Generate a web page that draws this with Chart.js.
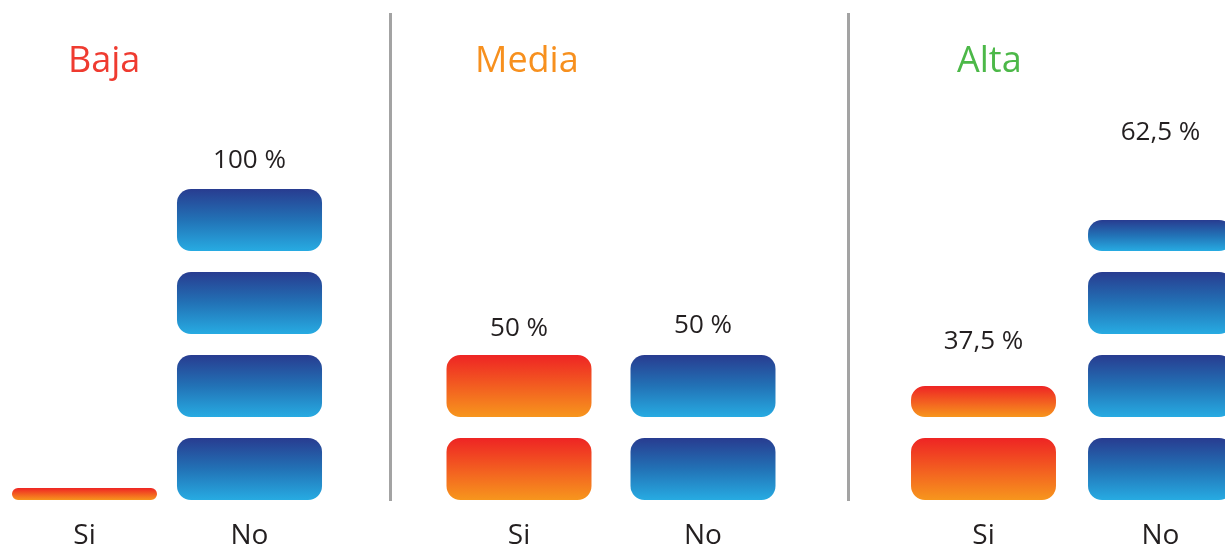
<!DOCTYPE html>
<html>
<head>
<meta charset="utf-8">
<script src="https://cdn.jsdelivr.net/npm/chart.js@4.4.1/dist/chart.umd.min.js"></script>
<style>
  html, body { margin: 0; padding: 0; background: #fff; }
  body { width: 1225px; height: 548px; position: relative; overflow: hidden; }
  .panel { position: absolute; top: 0; height: 548px; }
  .divider { position: absolute; top: 13px; width: 3px; height: 488px; background: #a3a3a3; }
</style>
</head>
<body>
<div class="panel" id="p0" style="left:2px;width:330px"><canvas id="c0"></canvas></div>
<div class="panel" id="p1" style="left:427px;width:368px"><canvas id="c1"></canvas></div>
<div class="panel" id="p2" style="left:895px;width:354px"><canvas id="c2"></canvas></div>
<div class="divider" style="left:389px"></div>
<div class="divider" style="left:847px"></div>
<script>
// Datos: porcentaje de respuestas Si / No por nivel (etiquetas)
const niveles = ["Baja", "Media", "Alta"];
const categorias = ["Si", "No"];
const porcentajeSi = [0, 50, 37.5];
const porcentajeNo = [100, 50, 62.5];
// Número de iconos (bloques) que dibuja el pictograma
const bloquesSi = [0, 2, 1.5];
const bloquesNo = [4, 2, 3.5];

const BLOQUE = 62 / 83; // parte coloreada de cada unidad (resto = hueco)
const MINIMO = 0.145; // tira fina cuando el valor es 0

const coloresTitulo = ["#ef3b30", "#f7901e", "#4cb848"];
const anchoBarra = [0.879, 0.788, 0.819];
const tituloX = [66, 48, 62];
const desplazEtiqueta = [[0, 28], [26, 29], [44, 87]];

// Convierte un número de bloques en el bloque flotante de cada nivel
function bloque(cantidad, nivel) {
  if (cantidad === 0) return nivel === 0 ? [0, MINIMO] : null;
  const lleno = Math.max(0, Math.min(1, cantidad - nivel));
  if (lleno <= 0) return null;
  return [nivel, nivel + lleno * BLOQUE];
}

function degradado(ctx) {
  const chart = ctx.chart;
  const y = chart.scales.y;
  const raw = ctx.raw;
  const esSi = ctx.dataIndex === 0;
  if (!y || !chart.chartArea || !raw) return esSi ? "#f36a21" : "#2272b6";
  const top = y.getPixelForValue(raw[1]);
  const bot = y.getPixelForValue(raw[0]);
  const g = chart.ctx.createLinearGradient(0, top, 0, bot);
  if (esSi) {
    g.addColorStop(0, "#ee2424");
    g.addColorStop(1, "#f7961d");
  } else {
    g.addColorStop(0, "#283c90");
    g.addColorStop(0.5, "#2272b6");
    g.addColorStop(1, "#27abe2");
  }
  return g;
}

// Título y etiquetas de porcentaje
const textosPlugin = {
  id: "textos",
  afterDatasetsDraw(chart, args, opts) {
    const ctx = chart.ctx;
    ctx.save();
    ctx.font = "36px 'Open Sans'";
    ctx.fillStyle = opts.color;
    ctx.textAlign = "left";
    ctx.textBaseline = "alphabetic";
    ctx.fillText(opts.titulo, opts.x, 72);

    ctx.font = "26px 'Open Sans'";
    ctx.fillStyle = "#231f20";
    ctx.textAlign = "center";
    ctx.textBaseline = "middle";
    opts.valores.forEach((v, i) => {
      if (!v) return;
      let topY = null, xc = null;
      chart.data.datasets.forEach((ds, d) => {
        const el = chart.getDatasetMeta(d).data[i];
        if (ds.data[i] && el) {
          if (topY === null || el.y < topY) { topY = el.y; xc = el.x; }
        }
      });
      if (topY !== null) {
        ctx.fillText(String(v).replace(".", ",") + " %", xc, topY - opts.offsets[i]);
      }
    });
    ctx.restore();
  },
};

niveles.forEach((nivel, p) => {
  const cantidades = [bloquesSi[p], bloquesNo[p]];
  const datasets = [0, 1, 2, 3].map((n) => ({
    data: cantidades.map((c) => bloque(c, n)),
    backgroundColor: degradado,
    borderRadius: 14,
    borderSkipped: false,
    grouped: false,
    barPercentage: anchoBarra[p],
    categoryPercentage: 1,
  }));

  new Chart(document.getElementById("c" + p), {
    type: "bar",
    data: { labels: categorias, datasets: datasets },
    options: {
      responsive: true,
      maintainAspectRatio: false,
      animation: false,
      layout: { padding: { top: 2, left: 0, right: 0, bottom: 0 } },
      plugins: {
        legend: { display: false },
        tooltip: { enabled: false },
        textos: {
          titulo: nivel,
          color: coloresTitulo[p],
          x: tituloX[p],
          valores: [porcentajeSi[p], porcentajeNo[p]],
          offsets: desplazEtiqueta[p],
        },
      },
      scales: {
        x: {
          grid: { display: false, drawTicks: false },
          border: { display: false },
          ticks: { color: "#231f20", font: { family: "'Open Sans'", size: 28 }, padding: 19 },
          afterFit(scale) { scale.height = 48; },
        },
        y: { display: false, min: 0, max: 6 },
      },
    },
    plugins: [textosPlugin],
  });
});
</script>
</body>
</html>
